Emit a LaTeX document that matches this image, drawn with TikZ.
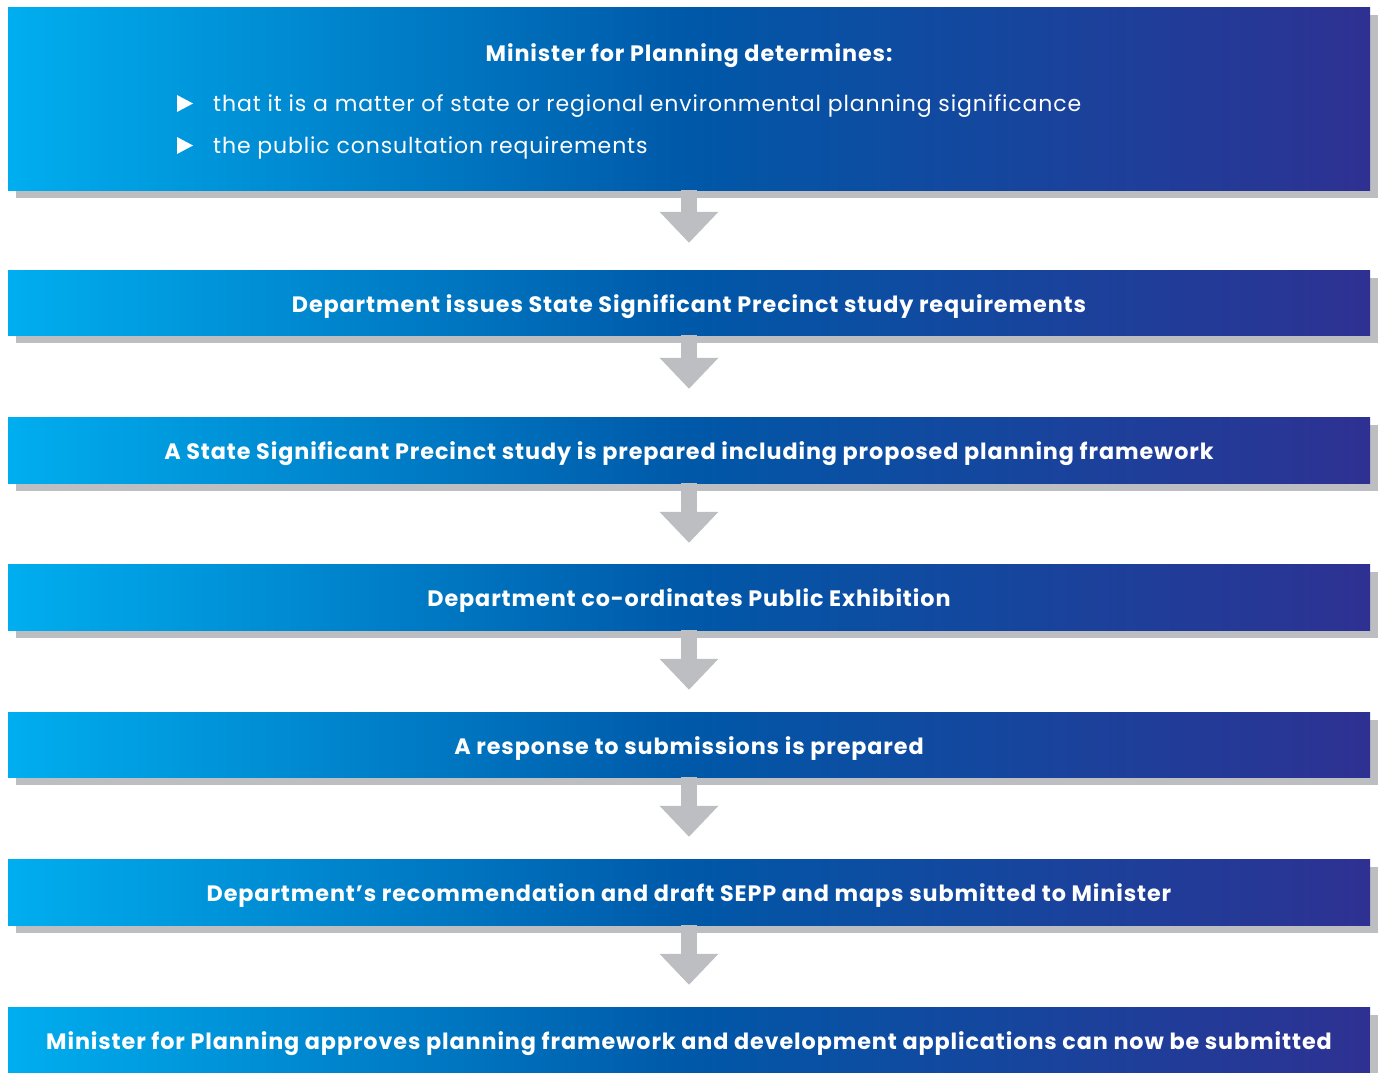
\documentclass[tikz,border=0pt]{standalone}
\usepackage{fontspec}
\setmainfont{Poppins}[LetterSpace=4]
\usetikzlibrary{shadows,arrows.meta,calc}
\definecolor{cyanL}{RGB}{0,174,239}
\definecolor{blueM}{RGB}{0,88,168}
\definecolor{blueR}{RGB}{46,49,146}
\definecolor{shadowgray}{RGB}{189,190,194}
\tikzset{
  boldtext/.style={font=\fontsize{22.3}{26}\selectfont\bfseries, text height=19pt, text depth=0pt},
  stepbox/.style={rectangle, minimum width=1362pt, inner sep=0pt,
    left color=cyanL, right color=blueR, middle color=blueM,
    general shadow={shadow xshift=8pt, shadow yshift=-8pt, fill=shadowgray},
    text=white, boldtext},
  bullettext/.style={anchor=west, text=white, font=\fontsize{22}{26}\selectfont, inner sep=0pt, text height=15pt, text depth=0pt},
  flow/.style={-{Triangle[width=57pt,length=31pt]}, line width=16pt, draw=shadowgray}
}
\begin{document}
\begin{tikzpicture}[x=1pt,y=-1pt]
\useasboundingbox (0,0) rectangle (1381,1072);
\node[stepbox, minimum height=183pt] (b1) at (689,98.5) {};
\node[boldtext, text height=15.4pt, text=white, inner sep=0pt] (t1) at (689,54) {Minister for Planning determines:};
\fill[white] (177,95) -- (193,103.5) -- (177,112) -- cycle;
\fill[white] (177,137) -- (193,145.5) -- (177,154) -- cycle;
\node[bullettext] (l1) at (213,104) {that it is a matter of state or regional environmental planning significance};
\node[bullettext] (l2) at (213,146) {the public consultation requirements};
\node[stepbox, minimum height=65pt] (b2) at (689,302.5) {Department issues State Significant Precinct study requirements};
\node[stepbox, minimum height=66pt] (b3) at (689,450) {A State Significant Precinct study is prepared including proposed planning framework};
\node[stepbox, minimum height=66pt] (b4) at (689,597) {Department co-ordinates Public Exhibition};
\node[stepbox, minimum height=65pt] (b5) at (689,744.5) {A response to submissions is prepared};
\node[stepbox, minimum height=66pt] (b6) at (689,892) {Department’s recommendation and draft SEPP and maps submitted to Minister};
\node[stepbox, minimum height=65pt] (b7) at (689,1039.5) {Minister for Planning approves planning framework and development applications can now be submitted};
\fill[shadowgray] (b7.north east) ++(0,8) rectangle ++(8,70);
\draw[flow] (b1.south) -- ($(b2.north)+(0,-27)$);
\draw[flow] (b2.south) -- ($(b3.north)+(0,-28)$);
\draw[flow] (b3.south) -- ($(b4.north)+(0,-21)$);
\draw[flow] (b4.south) -- ($(b5.north)+(0,-22)$);
\draw[flow] (b5.south) -- ($(b6.north)+(0,-22)$);
\draw[flow] (b6.south) -- ($(b7.north)+(0,-22)$);
\end{tikzpicture}
\end{document}
